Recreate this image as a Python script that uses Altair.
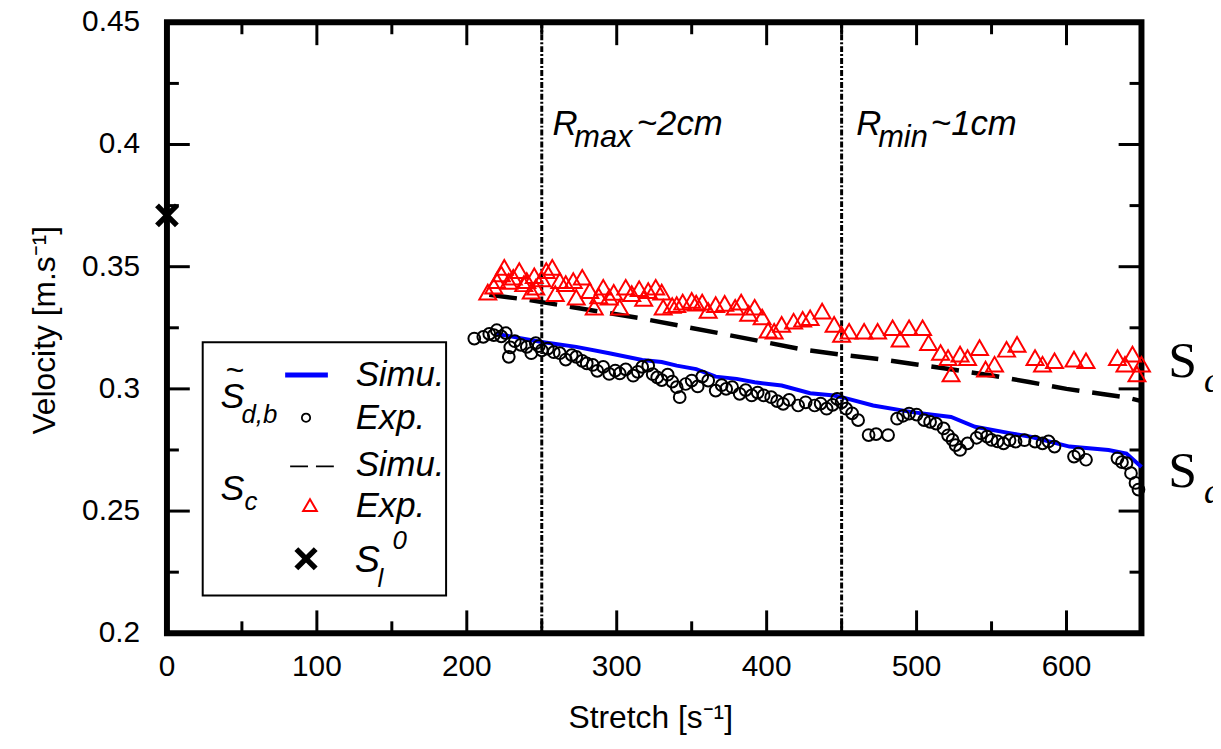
import altair as alt
import pandas as pd

# ---------------- data ----------------
sim_db_x = [220, 231, 250, 273, 295, 317, 330, 340, 353, 366, 380, 392, 410, 429, 445, 450,
            471, 497, 523, 539, 563, 576, 602, 628, 640, 650]
sim_db_y = [0.3225, 0.3213, 0.3192, 0.3172, 0.3146, 0.3118, 0.3110, 0.3095, 0.3081, 0.3050,
            0.3041, 0.3027, 0.3014, 0.2982, 0.2973, 0.2966, 0.2932, 0.2905, 0.2885, 0.2845,
            0.2818, 0.2804, 0.2764, 0.2750, 0.2735, 0.2680]

exp_db_x = [205, 211, 215, 218, 220, 223, 226, 228, 229, 232, 236, 240, 243, 246, 248, 250,
            254, 258, 262, 266, 270, 273, 277, 280, 284, 287, 291, 295, 299, 302, 306, 311,
            314, 317, 321, 324, 327, 330, 334, 337, 340, 342, 346, 350, 354, 357, 361, 366,
            370, 373, 377, 382, 386, 390, 394, 398, 403, 407, 411, 415, 421, 426, 432, 436,
            440, 444, 447, 450, 453, 457, 461, 468, 473, 481, 487, 491, 495, 500, 505, 509,
            513, 518, 521, 524, 526, 529, 534, 540, 543, 547, 550, 554, 558, 562, 566, 572,
            579, 584, 588, 592, 605, 608, 613, 634, 637, 640, 643, 646, 648]
exp_db_y = [0.3206, 0.3213, 0.3225, 0.3220, 0.3240, 0.3215, 0.3228, 0.3131, 0.3170, 0.3195,
            0.3180, 0.3172, 0.3146, 0.3187, 0.3175, 0.3158, 0.3165, 0.3150, 0.3146, 0.3120,
            0.3138, 0.3131, 0.3115, 0.3104, 0.3098, 0.3074, 0.3090, 0.3061, 0.3075, 0.3063,
            0.3080, 0.3054, 0.3070, 0.3090, 0.3095, 0.3060, 0.3047, 0.3036, 0.3058, 0.3030,
            0.3007, 0.2966, 0.3020, 0.3034, 0.3010, 0.3050, 0.3034, 0.2993, 0.3015, 0.3000,
            0.3007, 0.2980, 0.2995, 0.2973, 0.2985, 0.2973, 0.2966, 0.2950, 0.2939, 0.2955,
            0.2932, 0.2945, 0.2932, 0.2940, 0.2919, 0.2935, 0.2959, 0.2945, 0.2919, 0.2900,
            0.2872, 0.2811, 0.2815, 0.2811, 0.2878, 0.2890, 0.2899, 0.2895, 0.2872, 0.2865,
            0.2858, 0.2838, 0.2810, 0.2791, 0.2770, 0.2750, 0.2777, 0.2800, 0.2818, 0.2805,
            0.2791, 0.2785, 0.2777, 0.2790, 0.2784, 0.2790, 0.2784, 0.2777, 0.2785, 0.2764,
            0.2723, 0.2735, 0.2710, 0.2716, 0.2700, 0.2696, 0.2655, 0.2615, 0.2588]

sim_c_x = [215, 240, 265, 290, 315, 345, 375, 400, 425, 450, 475, 500, 525, 550, 575, 600,
           625, 640, 650]
sim_c_y = [0.3385, 0.3365, 0.3340, 0.3315, 0.3290, 0.3255, 0.3220, 0.3190, 0.3160, 0.3140,
           0.3122, 0.3100, 0.3078, 0.3055, 0.3028, 0.3000, 0.2978, 0.2965, 0.2950]

exp_c_x = [214, 218, 220, 223, 225, 228, 231, 235, 238, 240, 243, 245, 246, 250, 253, 257,
           259, 262, 266, 271, 273, 277, 282, 285, 288, 291, 295, 298, 302, 306, 310, 315,
           318, 321, 326, 330, 331, 337, 340, 344, 350, 353, 357, 361, 366, 372, 379, 383,
           388, 392, 397, 401, 405, 410, 418, 424, 429, 437, 445, 450, 455, 465, 474, 484,
           489, 495, 504, 508, 516, 521, 523, 529, 534, 542, 546, 552, 560, 567, 579, 584,
           592, 605, 613, 634, 639, 644, 647, 650]
exp_c_y = [0.3396, 0.3420, 0.3443, 0.3470, 0.3497, 0.3440, 0.3457, 0.3484, 0.3430, 0.3443,
           0.3400, 0.3463, 0.3416, 0.3450, 0.3484, 0.3497, 0.3390, 0.3443, 0.3431, 0.3443,
           0.3375, 0.3457, 0.3402, 0.3334, 0.3380, 0.3416, 0.3375, 0.3395, 0.3334, 0.3416,
           0.3390, 0.3410, 0.3370, 0.3402, 0.3416, 0.3396, 0.3334, 0.3341, 0.3345, 0.3355,
           0.3362, 0.3351, 0.3355, 0.3321, 0.3345, 0.3350, 0.3334, 0.3355, 0.3309, 0.3334,
           0.3294, 0.3240, 0.3236, 0.3264, 0.3277, 0.3285, 0.3291, 0.3318, 0.3264, 0.3223,
           0.3236, 0.3236, 0.3236, 0.3250, 0.3203, 0.3250, 0.3250, 0.3189, 0.3149, 0.3128,
           0.3061, 0.3142, 0.3128, 0.3169, 0.3081, 0.3101, 0.3162, 0.3182, 0.3128, 0.3101,
           0.3115, 0.3122, 0.3115, 0.3128, 0.3101, 0.3142, 0.3061, 0.3101]

sl0_x = [0]
sl0_y = [0.371]

radius_x = [250, 450]

x_major = [0, 100, 200, 300, 400, 500, 600]
x_minor = [50, 150, 250, 350, 450, 550]
y_major = [0.2, 0.25, 0.3, 0.35, 0.4, 0.45]
y_minor = [0.225, 0.275, 0.325, 0.375, 0.425]
x_tick_labels = ["0", "100", "200", "300", "400", "500", "600"]
y_tick_labels = ["0.2", "0.25", "0.3", "0.35", "0.4", "0.45"]

x_title = "Stretch [s⁻¹]"
y_title = "Velocity [m.s⁻¹]"

# ---------------- layout ----------------
W, H = 981, 615
SANS = "Liberation Sans"
SERIF = "Liberation Serif"

xs = alt.Scale(domain=[0, 650], nice=False, zero=False)
ys = alt.Scale(domain=[0.2, 0.45], nice=False, zero=False)


def X(field="x"):
    return alt.X(f"{field}:Q", scale=xs, axis=None)


def Y(field="y"):
    return alt.Y(f"{field}:Q", scale=ys, axis=None)


df_sim_db = pd.DataFrame({"x": sim_db_x, "y": sim_db_y})
df_exp_db = pd.DataFrame({"x": exp_db_x, "y": exp_db_y})
df_sim_c = pd.DataFrame({"x": sim_c_x, "y": sim_c_y})
df_exp_c = pd.DataFrame({"x": exp_c_x, "y": exp_c_y})
df_sl0 = pd.DataFrame({"x": sl0_x, "y": sl0_y})
df_rad = pd.DataFrame({"x": radius_x})

X_PATH = "M -1 -1 L 1 1 M 1 -1 L -1 1"

# main data layers
blue = alt.Chart(df_sim_db).mark_line(color="#0000ff", strokeWidth=4).encode(x=X(), y=Y())
circles = alt.Chart(df_exp_db).mark_point(shape="circle", filled=False, color="black",
                                          size=140, strokeWidth=2, opacity=1).encode(x=X(), y=Y())
dashed = alt.Chart(df_sim_c).mark_line(color="black", strokeWidth=4.5,
                                       strokeDash=[28, 13]).encode(x=X(), y=Y())
triangles = alt.Chart(df_exp_c).mark_point(shape="triangle-up", filled=False, color="#ff0000",
                                           size=290, strokeWidth=2, opacity=1).encode(x=X(), y=Y())
sl0 = alt.Chart(df_sl0).mark_point(shape=X_PATH, filled=False, color="black", size=400,
                                   strokeWidth=5.5, opacity=1).encode(x=X(), y=Y())
vlines = alt.Chart(df_rad).mark_rule(color="black", strokeWidth=3,
                                     strokeDash=[6, 2, 2, 2]).encode(
    x=X(), y=alt.value(0), y2=alt.value(H))


# inward ticks (gnuplot style, mirrored)
def yticks(vals, length):
    d = pd.DataFrame({"v": vals})
    left = alt.Chart(d).mark_rule(color="black", strokeWidth=3).encode(
        y=Y("v"), x=alt.value(0), x2=alt.value(length))
    right = alt.Chart(d).mark_rule(color="black", strokeWidth=3).encode(
        y=Y("v"), x=alt.value(W - length), x2=alt.value(W))
    return [left, right]


def xticks(vals, length):
    d = pd.DataFrame({"v": vals})
    bottom = alt.Chart(d).mark_rule(color="black", strokeWidth=3).encode(
        x=X("v"), y=alt.value(H - length), y2=alt.value(H))
    top = alt.Chart(d).mark_rule(color="black", strokeWidth=3).encode(
        x=X("v"), y=alt.value(0), y2=alt.value(length))
    return [bottom, top]


ticks = yticks(y_major, 23) + yticks(y_minor, 12) + xticks(x_major, 23) + xticks(x_minor, 12)

# tick labels drawn through the scales
xlab = alt.Chart(pd.DataFrame({"v": x_major, "t": x_tick_labels})).mark_text(
    font=SANS, fontSize=30, baseline="top", align="center", color="black").encode(
    x=X("v"), y=alt.value(H + 19), text="t:N")
ylab = alt.Chart(pd.DataFrame({"v": y_major, "t": y_tick_labels})).mark_text(
    font=SANS, fontSize=30, baseline="middle", align="right", color="black").encode(
    y=Y("v"), x=alt.value(-27), text="t:N")

one = pd.DataFrame({"k": [0]})


def txt(t, x, y, size, font=SANS, style="italic", baseline="alphabetic", align="left",
        angle=0):
    return alt.Chart(one).mark_text(text=t, font=font, fontSize=size, fontStyle=style,
                                    baseline=baseline, align=align, color="black",
                                    angle=angle).encode(x=alt.value(x), y=alt.value(y))


titles = [
    txt(x_title, 487, 700, 32, style="normal", baseline="middle", align="center"),
    txt(y_title, -123, 310, 32, style="normal", baseline="middle", align="center", angle=270),
]

annotations = [
    txt("R", 388, 113, 35), txt("max", 410, 126, 31), txt("~2cm", 473, 113, 35),
    txt("R", 694, 113, 35), txt("min", 716, 126, 31), txt("~1cm", 769, 113, 35),
    txt("S", 1008, 357, 52, font=SERIF, style="normal"),
    txt("c", 1044, 372, 36, font=SERIF),
    txt("S", 1008, 468, 52, font=SERIF, style="normal"),
    txt("d", 1044, 484, 36, font=SERIF),
]

# legend
legend_box = alt.Chart(one).mark_rect(fill="white", stroke="black", strokeWidth=2).encode(
    x=alt.value(36), x2=alt.value(281), y=alt.value(322), y2=alt.value(577))
leg_blue = alt.Chart(one).mark_rule(color="#0000ff", strokeWidth=5).encode(
    x=alt.value(119), x2=alt.value(162), y=alt.value(355))
leg_dash = alt.Chart(one).mark_rule(color="black", strokeWidth=2, strokeDash=[18, 8]).encode(
    x=alt.value(124), x2=alt.value(170), y=alt.value(447))
leg_circ = alt.Chart(one).mark_point(shape="circle", filled=False, color="black", size=70,
                                     strokeWidth=1.8, opacity=1).encode(x=alt.value(140), y=alt.value(398))
leg_tri = alt.Chart(one).mark_point(shape="triangle-up", filled=False, color="#ff0000",
                                    size=190, strokeWidth=2, opacity=1).encode(x=alt.value(144), y=alt.value(486))
leg_x = alt.Chart(one).mark_point(shape=X_PATH, filled=False, color="black", size=380,
                                  strokeWidth=5.5, opacity=1).encode(x=alt.value(140), y=alt.value(540))
legend_text = [
    txt("~", 68, 351, 32, baseline="middle", align="center"),
    txt("S", 54, 388, 36), txt("d,b", 75, 403, 26),
    txt("Simu.", 190, 355, 35, baseline="middle"),
    txt("Exp.", 190, 398, 35, baseline="middle"),
    txt("S", 54, 481, 36), txt("c", 78, 491, 26),
    txt("Simu.", 190, 446, 35, baseline="middle"),
    txt("Exp.", 190, 487, 35, baseline="middle"),
    txt("S", 189, 553, 38), txt("l", 212, 568, 26), txt("0", 227, 530, 26),
]

layers = ([vlines, blue, dashed, circles, triangles, sl0] + ticks + [xlab, ylab] + titles +
          annotations +
          [legend_box, leg_blue, leg_dash, leg_circ, leg_tri, leg_x] + legend_text)

chart = alt.layer(*layers).properties(
    width=W, height=H,
    background="white",
    autosize=alt.AutoSizeParams(type="none"),
    padding={"left": 160, "top": 12, "right": 72, "bottom": 100},
).configure_view(stroke="black", strokeWidth=6)

chart.save("out.html", embed_options={"renderer": "svg", "actions": False})
